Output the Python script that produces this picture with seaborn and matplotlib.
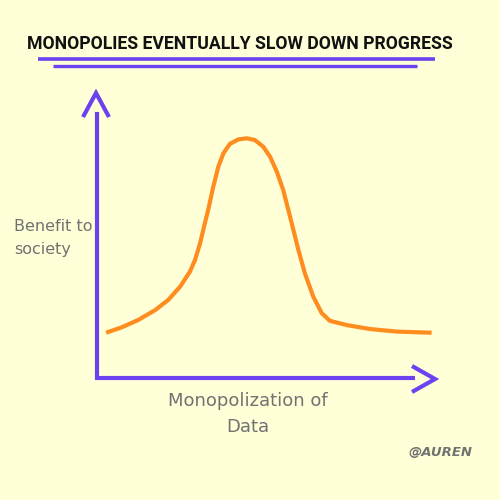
import matplotlib
matplotlib.use("Agg")
import matplotlib.pyplot as plt
import seaborn as sns
import pandas as pd
from matplotlib.lines import Line2D

# ---- data ----
monopolization = [2.7, 7.3, 12.2, 17.2, 21.1, 24.6, 27.5, 29.0, 30.5, 31.7, 32.9,
                  34.4, 35.9, 37.4, 39.3, 41.8, 44.3, 46.7, 49.2, 51.2, 53.2,
                  55.1, 56.6, 57.6, 59.6, 61.5, 64.0, 66.5, 68.9, 73.9, 80.8,
                  88.7, 99.0]
benefit = [16.0, 17.9, 20.5, 24.0, 27.6, 32.3, 37.6, 41.7, 47.6, 53.7, 59.4,
           67.6, 74.7, 79.4, 82.7, 84.3, 84.7, 84.1, 81.7, 78.2, 72.9,
           66.4, 59.4, 54.7, 45.2, 37.0, 28.7, 22.9, 20.2, 18.7, 17.3,
           16.4, 16.0]
title = "MONOPOLIES EVENTUALLY SLOW DOWN PROGRESS"
xlabel = "Monopolization of\nData"
ylabel = "Benefit to\nsociety"
credit = "@AUREN"

BG = "#ffffd8"
PURPLE = "#6c42f0"
ORANGE = "#ff8c1e"
GREY = "#727272"

sns.set_theme(style="white")
plt.rcParams['font.family'] = ['DejaVu Sans']

fig = plt.figure(figsize=(5, 5), dpi=100, facecolor=BG)
W = H = 500.0
def fx(px): return px / W
def fy(py): return 1 - py / H

ax = fig.add_axes([fx(97), fy(378), (435 - 97) / W, (378 - 95) / H])
ax.set_facecolor("none")
df = pd.DataFrame({"m": monopolization, "b": benefit})
sns.lineplot(data=df, x="m", y="b", sort=False, color=ORANGE, lw=3.0, ax=ax,
             solid_joinstyle="round", solid_capstyle="butt")
ax.set_xlim(0, 100)
ax.set_ylim(0, 100)
ax.set_xticks([]); ax.set_yticks([])
ax.set_xlabel(""); ax.set_ylabel("")
for s in ax.spines.values():
    s.set_visible(False)

def fline(xs, ys, lw=3.0, color=PURPLE):
    fig.add_artist(Line2D([fx(x) for x in xs], [fy(y) for y in ys],
                          transform=fig.transFigure, color=color, lw=lw,
                          solid_capstyle="butt", solid_joinstyle="miter"))

# axes with arrows
fline([96.5, 96.5], [379.5, 112])
fline([83, 96, 109], [117, 93, 117])
fline([95, 415], [378, 378])
fline([412, 435, 412], [366, 379, 392])

# title and underlines
fig.text(fx(240), fy(44), title, ha="center", va="center", fontsize=12.7,
         fontweight="bold", color="#111111", family=["Roboto", "DejaVu Sans"])
fline([38, 435], [59.3, 59.3], lw=2.6)
fline([53, 417], [65.5, 65.5], lw=2.4)

fig.text(fx(14), fy(238), ylabel, ha="left", va="center", fontsize=11.5,
         color=GREY, linespacing=1.6)
fig.text(fx(248), fy(414), xlabel, ha="center", va="center", fontsize=13,
         color=GREY, linespacing=1.5)
fig.text(fx(440), fy(453), credit, ha="center", va="center", fontsize=9.5,
         color=GREY, fontstyle="italic", fontweight="bold")

fig.savefig("out.png", dpi=100, facecolor=BG)
